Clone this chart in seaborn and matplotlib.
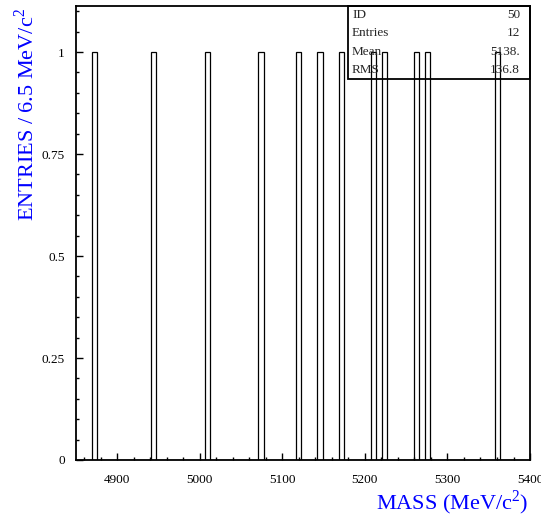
import matplotlib
matplotlib.use("Agg")
import matplotlib.pyplot as plt
from matplotlib.patches import Rectangle
import seaborn as sns
import numpy as np

sns.set_style("ticks")
plt.rcParams['font.family'] = ['Liberation Serif', 'DejaVu Serif']
plt.rcParams['mathtext.fontset'] = 'custom'
plt.rcParams['mathtext.rm'] = 'Liberation Serif'

# one entry per candidate (bin centres, MeV/c^2)
masses = [4872.75, 4944.25, 5009.25, 5074.25, 5119.75, 5145.75,
          5171.75, 5210.75, 5223.75, 5262.75, 5275.75, 5360.25]
bin_width = 6.5
x_range = (4850, 5400)
y_max = 1.113

stat_names = ['ID', 'Entries', 'Mean', 'RMS']
stat_values = ['50', '12', '5138.', '136.8']

fig = plt.figure(figsize=(5.41, 5.18), dpi=100)
ax = fig.add_axes([0.1405, 0.112, 0.8392, 0.8765])

bins = np.arange(x_range[0], x_range[1] + bin_width, bin_width)
sns.histplot(x=masses, bins=bins, fill=False, element="bars",
             color='black', edgecolor='black', linewidth=0.9, ax=ax)

ax.set_xlim(*x_range)
ax.set_ylim(0, y_max)
ax.set_xticks([4900, 5000, 5100, 5200, 5300, 5400])
ax.set_xticks(np.arange(4860, 5400, 20), minor=True)
ax.set_yticks([0, 0.25, 0.5, 0.75, 1])
ax.set_yticklabels(['0', '0.25', '0.5', '0.75', '1'])
ax.set_yticks(np.arange(0, 1.11, 0.05), minor=True)
ax.tick_params(axis='both', which='both', direction='in', top=False, right=False,
               labelsize=9.5, colors='black')
ax.tick_params(axis='both', which='major', length=5, width=1)
ax.tick_params(axis='both', which='minor', length=2.5, width=1)
ax.tick_params(axis='x', which='major', pad=10)
ax.tick_params(axis='y', which='major', pad=8)
for s in ax.spines.values():
    s.set_linewidth(1.3)
    s.set_color('black')

ax.set_xlabel('')
ax.set_ylabel('')
fig.text(0.976, 0.0174, r'MASS (MeV/c$^2$)', color='blue', fontsize=16,
         ha='right', va='baseline')
fig.text(0.026, 0.985, r'ENTRIES / 6.5 MeV/c$^2$', color='blue', fontsize=16,
         rotation=90, ha='left', va='top')

# stats box (no fill, bars show through)
ax.add_patch(Rectangle((0.599, 0.839), 0.401, 0.161, transform=ax.transAxes,
                       fill=False, edgecolor='black', linewidth=1.3, clip_on=False))
rows_y = [0.980, 0.9405, 0.8987, 0.859]
for name, val, yy in zip(stat_names, stat_values, rows_y):
    ax.text(0.608, yy, name, transform=ax.transAxes, fontsize=9.5, va='center', ha='left')
    ax.text(0.978, yy, val, transform=ax.transAxes, fontsize=9.5, va='center', ha='right')

fig.savefig('out.png', dpi=100)
